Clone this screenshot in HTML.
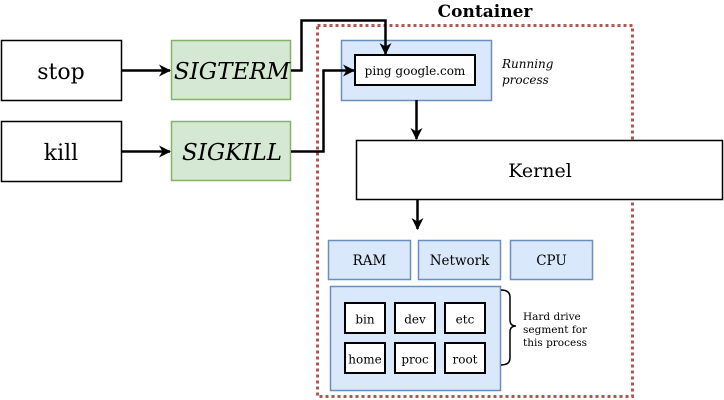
<!DOCTYPE html>
<html><head><meta charset="utf-8"><style>
html,body{margin:0;padding:0;background:#fff;}
svg{display:block;font-family:"DejaVu Serif","Liberation Serif",serif;}
</style></head><body>
<svg width="724" height="400" viewBox="0 0 724 400" xmlns="http://www.w3.org/2000/svg">
<defs>
<marker id="a" markerWidth="12" markerHeight="12" refX="11" refY="6" orient="auto" markerUnits="userSpaceOnUse">
<path d="M0,0 L12,6 L0,12 L3.5,6 Z" fill="#000"/>
</marker>
</defs>
<rect x="317.5" y="25.5" width="315" height="371" fill="none" stroke="#b85450" stroke-width="3" stroke-dasharray="3,3"/>
<text x="485" y="17" font-size="17" font-weight="bold" text-anchor="middle">Container</text>

<rect x="1.5" y="40.5" width="120" height="60" fill="#fff" stroke="#000" stroke-width="1.5"/>
<text x="61" y="79" font-size="22" text-anchor="middle">stop</text>
<rect x="1.5" y="121.5" width="120" height="60" fill="#fff" stroke="#000" stroke-width="1.5"/>
<text x="61" y="160" font-size="22" text-anchor="middle">kill</text>

<rect x="171.5" y="40.5" width="119" height="59" fill="#d5e8d4" stroke="#82b366" stroke-width="1.5"/>
<text x="232" y="79" font-size="23" font-style="italic" text-anchor="middle">SIGTERM</text>
<rect x="171.5" y="121.5" width="119" height="59" fill="#d5e8d4" stroke="#82b366" stroke-width="1.5"/>
<text x="232" y="160" font-size="23" font-style="italic" text-anchor="middle">SIGKILL</text>

<line x1="121" y1="70.5" x2="170" y2="70.5" stroke="#000" stroke-width="2.5" marker-end="url(#a)"/>
<line x1="121" y1="151.5" x2="170" y2="151.5" stroke="#000" stroke-width="2.5" marker-end="url(#a)"/>

<rect x="341.5" y="40.5" width="150" height="60" fill="#dae8fc" stroke="#6c8ebf" stroke-width="1.5"/>
<rect x="355" y="55" width="120" height="30" fill="#fff" stroke="#000" stroke-width="2"/>
<text x="415" y="75" font-size="12" text-anchor="middle">ping google.com</text>
<text x="502" y="68" font-size="12" font-style="italic">Running</text>
<text x="502" y="84" font-size="12" font-style="italic">process</text>

<polyline points="291,70.5 301.5,70.5 301.5,20.5 385.5,20.5 385.5,54" fill="none" stroke="#000" stroke-width="2.5" marker-end="url(#a)"/>
<polyline points="291,151.5 323.5,151.5 323.5,70.5 354,70.5" fill="none" stroke="#000" stroke-width="2.5" marker-end="url(#a)"/>

<line x1="416.5" y1="100" x2="416.5" y2="139" stroke="#000" stroke-width="2.5" marker-end="url(#a)"/>

<rect x="356.5" y="140.5" width="366" height="59" fill="#fff" stroke="#000" stroke-width="1.5"/>
<text x="540" y="177" font-size="19" text-anchor="middle">Kernel</text>

<line x1="417.5" y1="200" x2="417.5" y2="229" stroke="#000" stroke-width="2.5" marker-end="url(#a)"/>

<rect x="328.5" y="240.5" width="82" height="39" fill="#dae8fc" stroke="#6c8ebf" stroke-width="1.5"/>
<text x="369.5" y="265" font-size="13.5" text-anchor="middle">RAM</text>
<rect x="418.5" y="240.5" width="82" height="39" fill="#dae8fc" stroke="#6c8ebf" stroke-width="1.5"/>
<text x="459.5" y="265" font-size="13.5" text-anchor="middle">Network</text>
<rect x="510.5" y="240.5" width="82" height="39" fill="#dae8fc" stroke="#6c8ebf" stroke-width="1.5"/>
<text x="551.5" y="265" font-size="13.5" text-anchor="middle">CPU</text>

<rect x="330.5" y="286.5" width="170" height="104" fill="#dae8fc" stroke="#6c8ebf" stroke-width="1.5"/>
<g font-size="12" text-anchor="middle" stroke-width="2">
<rect x="345" y="303" width="40" height="30" fill="#fff" stroke="#000"/><text x="365" y="323.5" stroke="none">bin</text>
<rect x="395" y="303" width="40" height="30" fill="#fff" stroke="#000"/><text x="415" y="323.5" stroke="none">dev</text>
<rect x="445" y="303" width="40" height="30" fill="#fff" stroke="#000"/><text x="465" y="323.5" stroke="none">etc</text>
<rect x="345" y="343" width="40" height="30" fill="#fff" stroke="#000"/><text x="365" y="363.5" stroke="none">home</text>
<rect x="395" y="343" width="40" height="30" fill="#fff" stroke="#000"/><text x="415" y="363.5" stroke="none">proc</text>
<rect x="445" y="343" width="40" height="30" fill="#fff" stroke="#000"/><text x="465" y="363.5" stroke="none">root</text>
</g>
<path d="M501,290 Q510,290 510,297 L510,320 Q510,326 516,326 Q510,326 510,332 L510,358 Q510,365 501,365" fill="none" stroke="#000" stroke-width="1.5"/>
<text font-size="10.5" x="523" y="320">Hard drive</text>
<text font-size="10.5" x="523" y="333">segment for</text>
<text font-size="10.5" x="523" y="346">this process</text>
</svg>
</body></html>
